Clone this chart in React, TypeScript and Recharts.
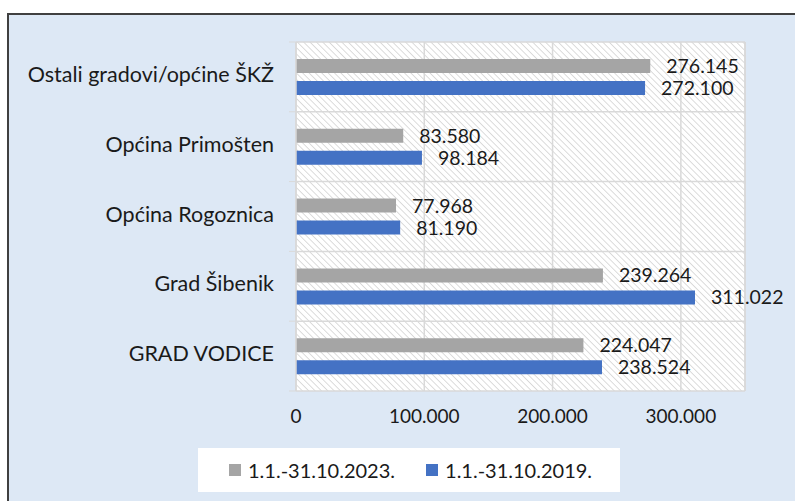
import React from 'react';
import {
  BarChart,
  Bar,
  XAxis,
  YAxis,
  CartesianGrid,
  LabelList,
  ReferenceLine,
} from 'recharts';

const categories = [
  'Ostali gradovi/općine ŠKŽ',
  'Općina Primošten',
  'Općina Rogoznica',
  'Grad Šibenik',
  'GRAD VODICE',
];
const values2023 = [276145, 83580, 77968, 239264, 224047];
const values2019 = [272100, 98184, 81190, 311022, 238524];
const xTicks = [0, 100000, 200000, 300000];
const seriesNames = ['1.1.-31.10.2023.', '1.1.-31.10.2019.'];
const seriesColors = ['#a5a5a5', '#4472c4'];

const W = 795;
const H = 501;
const FONT = 'Lato, "Open Sans", sans-serif';
const GRID = '#d9d9d9';
const margin = { top: 42, right: 50, bottom: 80, left: 0 };
const yAxisWidth = 296;
const xAxisHeight = 30;
const plotHeight = H - margin.top - margin.bottom - xAxisHeight;
const band = plotHeight / categories.length;

const fmt = (v: number) =>
  String(v).replace(/\B(?=(\d{3})+(?!\d))/g, '.');

const chartData = categories.map((name, i) => ({
  name,
  y2023: values2023[i],
  y2019: values2019[i],
}));

// category label plus the little tick marks on the band boundaries
function CategoryTick(props: any) {
  const { x, y, payload, index } = props;
  return (
    <g>
      {index === 0 && (
        <line x1={x + 15} x2={x + 22} y1={y - band / 2} y2={y - band / 2} stroke={GRID} />
      )}
      <line x1={x + 15} x2={x + 22} y1={y + band / 2} y2={y + band / 2} stroke={GRID} />
      <text
        x={x}
        y={y}
        dy={-3}
        textAnchor="end"
        dominantBaseline="central"
        fontSize={21.5}
        fontFamily={FONT}
        fill="#1a1a1a"
      >
        {payload.value}
      </text>
    </g>
  );
}

export default function App() {
  return (
    <div
      style={{
        position: 'fixed',
        left: 0,
        top: 0,
        width: W,
        height: H,
        background: '#ffffff',
        overflow: 'hidden',
      }}
    >
      <div
        style={{
          position: 'absolute',
          left: 7,
          top: 13,
          width: W,
          height: H,
          background: '#dde8f5',
          border: '2px solid #404040',
        }}
      />
      <div style={{ position: 'absolute', left: 0, top: 0 }}>
        <BarChart
          width={W}
          height={H}
          data={chartData}
          layout="vertical"
          margin={margin}
          barSize={14}
          barGap={8}
          barCategoryGap={17}
        >
          <defs>
            <pattern
              id="hatch"
              patternUnits="userSpaceOnUse"
              width="4.5"
              height="4.5"
              patternTransform="rotate(-45)"
            >
              <rect width="4.5" height="4.5" fill="#ffffff" />
              <line x1="0" y1="0" x2="0" y2="4.5" stroke="#d8d8d8" strokeWidth="1.8" />
            </pattern>
          </defs>
          <CartesianGrid
            fill="url(#hatch)"
            stroke={GRID}
            strokeWidth={1.5}
            horizontalCoordinatesGenerator={({ offset }: any) =>
              categories
                .map((_, i) => offset.top + i * band)
                .concat(offset.top + plotHeight)
            }
          />
          <ReferenceLine x={350000} stroke={GRID} strokeWidth={1.5} />
          <XAxis
            type="number"
            domain={[0, 350000]}
            ticks={xTicks}
            tickFormatter={fmt}
            axisLine={false}
            tickLine={false}
            tickSize={0}
            tickMargin={19}
            height={xAxisHeight}
            tick={{ fontSize: 19, fontFamily: FONT, fill: '#1a1a1a' }}
          />
          <YAxis
            type="category"
            dataKey="name"
            width={yAxisWidth}
            axisLine={{ stroke: GRID, strokeWidth: 1.5 }}
            tickLine={false}
            tickSize={0}
            tickMargin={22}
            tick={<CategoryTick />}
          />
          <Bar dataKey="y2023" fill={seriesColors[0]} isAnimationActive={false}>
            <LabelList
              dataKey="y2023"
              position="right"
              offset={16}
              formatter={(v: any) => fmt(Number(v))}
              style={{ fontSize: 19.5, fontFamily: FONT, fill: '#1a1a1a' }}
            />
          </Bar>
          <Bar dataKey="y2019" fill={seriesColors[1]} isAnimationActive={false}>
            <LabelList
              dataKey="y2019"
              position="right"
              offset={16}
              formatter={(v: any) => fmt(Number(v))}
              style={{ fontSize: 19.5, fontFamily: FONT, fill: '#1a1a1a' }}
            />
          </Bar>
        </BarChart>
      </div>
      <div
        style={{
          position: 'absolute',
          left: 198,
          top: 448,
          width: 422,
          height: 44,
          background: '#ffffff',
          display: 'flex',
          alignItems: 'center',
          fontFamily: FONT,
          fontSize: 20,
          color: '#1a1a1a',
        }}
      >
        {seriesNames.map((name, i) => (
          <div
            key={name}
            style={{
              display: 'flex',
              alignItems: 'center',
              marginLeft: 31,
            }}
          >
            <span
              style={{
                display: 'inline-block',
                width: 12,
                height: 12,
                background: seriesColors[i],
                marginRight: 7,
              }}
            />
            <span>{name}</span>
          </div>
        ))}
      </div>
    </div>
  );
}
